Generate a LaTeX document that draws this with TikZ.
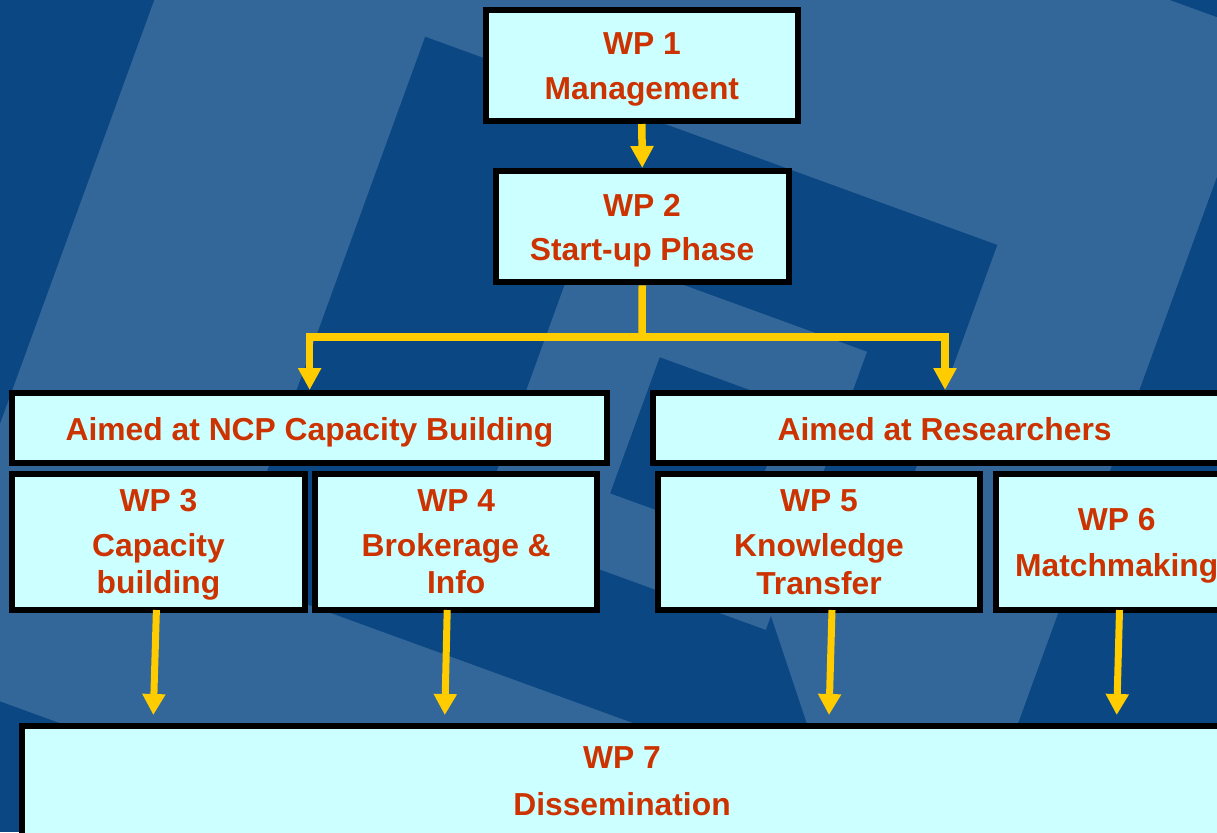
\documentclass[tikz,border=0pt]{standalone}
\usepackage{fontspec}
\setmainfont{Liberation Sans}
\usetikzlibrary{arrows.meta}
\definecolor{bgdark}{HTML}{0A4783}
\definecolor{bglight}{HTML}{336699}
\definecolor{boxfill}{HTML}{CCFFFF}
\definecolor{txtred}{HTML}{CC3300}
\definecolor{arrowyel}{HTML}{FFCC00}
\begin{document}
\begin{tikzpicture}[x=1pt,y=-1pt,
  wpbox/.style={draw=black, line width=6pt, fill=boxfill, inner sep=0pt, outer sep=3pt},
  lbl/.style={text=txtred, font=\bfseries\fontsize{31.8}{36}\selectfont, anchor=base, inner sep=0pt},
  conn/.style={draw=arrowyel, line width=7.5pt},
  tipbig/.style={-{Triangle[width=22pt,length=22pt]}},
  tipsmall/.style={-{Triangle[width=22pt,length=21pt]}},
  bgrot/.style={x={(0.9397pt,-0.3420pt)}, y={(-0.3420pt,-0.9397pt)}}]
\useasboundingbox (0,0) rectangle (1217,832);
\begin{scope}
\clip (0,0) rectangle (1217,832);
\fill[bgdark] (0,0) rectangle (1217,832);
\begin{scope}[bgrot]
\fill[bglight, even odd rule]
  (145,-400) -- (1204,-400) -- (1204,659) -- (145,659) -- cycle
  (412,-111) -- (1021,-111) -- (1021,463) -- (412,463) -- cycle;
\fill[bglight, even odd rule]
  (628,34) -- (935,34) -- (935,330) -- (628,330) -- cycle
  (742,110) -- (880,110) -- (880,255) -- (742,255) -- cycle;
\end{scope}
\fill[bglight] (769,610) -- (866,610) -- (824,724) -- (807,724) -- cycle;

% boxes
\node[wpbox, minimum width=311.7pt, minimum height=111.3pt] (wp1) at (641.85,65.35) {};
\node[wpbox, minimum width=292.9pt, minimum height=111.3pt] (wp2) at (642.25,226.65) {};
\node[wpbox, minimum width=594.7pt, minimum height=70pt] (ncp) at (309.65,428) {};
\node[wpbox, minimum width=584pt, minimum height=70pt] (res) at (945,428) {};
\node[wpbox, minimum width=292.2pt, minimum height=136.3pt] (wp3) at (158.4,541.85) {};
\node[wpbox, minimum width=281.6pt, minimum height=136.3pt] (wp4) at (456.2,541.85) {};
\node[wpbox, minimum width=322pt, minimum height=136.3pt] (wp5) at (819,541.85) {};
\node[wpbox, minimum width=241pt, minimum height=136.3pt] (wp6) at (1116.5,541.85) {};
\node[wpbox, minimum width=1199.7pt, minimum height=174.5pt] (wp7) at (622.15,812.75) {};

% labels
\node[lbl] (l1a) at (641.9,54.3) {WP 1};
\node[lbl] (l1b) at (641.9,100) {Management};
\node[lbl] (l2a) at (642,216) {WP 2};
\node[lbl] (l2b) at (642,260) {Start-up Phase};
\node[lbl] (lncp) at (309.5,440) {Aimed at NCP Capacity Building};
\node[lbl] (lres) at (944.6,440) {Aimed at Researchers};
\node[lbl] (l3a) at (158.5,511.7) {WP 3};
\node[lbl] (l3b) at (158.5,556.7) {Capacity};
\node[lbl] (l3c) at (158.5,593.3) {building};
\node[lbl] (l4a) at (456.2,511.7) {WP 4};
\node[lbl] (l4b) at (456.2,556.7) {Brokerage \&};
\node[lbl] (l4c) at (456.2,593.3) {Info};
\node[lbl] (l5a) at (819,511.7) {WP 5};
\node[lbl] (l5b) at (819,556.7) {Knowledge};
\node[lbl] (l5c) at (819,594) {Transfer};
\node[lbl] (l6a) at (1116.7,530.7) {WP 6};
\node[lbl] (l6b) at (1116.7,576.7) {Matchmaking};
\node[lbl] (l7a) at (622,768.3) {WP 7};
\node[lbl] (l7b) at (622,815) {Dissemination};

% connectors
\draw[conn, tipbig] (wp1.south) -- (wp2.north);
\coordinate (junc) at (642,337);
\draw[conn] (wp2.south) -- (junc);
\draw[conn, {Triangle[width=22pt,length=22pt]}-{Triangle[width=22pt,length=22pt]}] (ncp.north) |- (junc) -| (res.north);

\coordinate (e3) at (153.3,715);
\coordinate (e4) at (444.8,715);
\coordinate (e5) at (829,715);
\coordinate (e6) at (1116.7,715);
\draw[conn, line width=7pt, tipsmall] ([xshift=-2pt,yshift=3pt]wp3.south) -- (e3);
\draw[conn, line width=7pt, tipsmall] ([xshift=-9pt,yshift=3pt]wp4.south) -- (e4);
\draw[conn, line width=7pt, tipsmall] ([xshift=13pt,yshift=3pt]wp5.south) -- (e5);
\draw[conn, line width=7pt, tipsmall] ([xshift=3pt,yshift=3pt]wp6.south) -- (e6);
\end{scope}
\end{tikzpicture}
\end{document}
